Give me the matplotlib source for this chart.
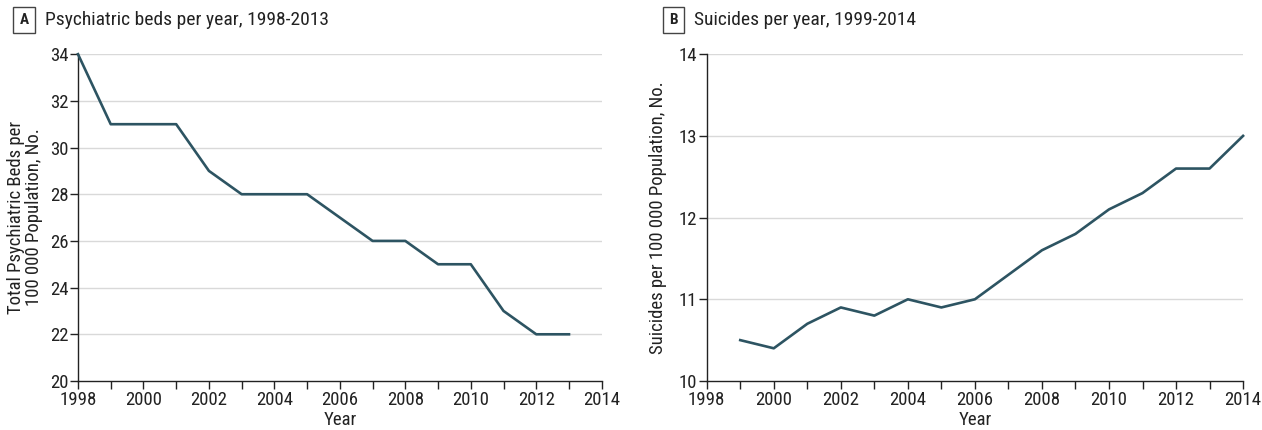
import matplotlib
matplotlib.use('Agg')
from matplotlib import pyplot as plt
from matplotlib.ticker import MultipleLocator

plt.rcParams['font.family'] = ['Roboto Condensed', 'DejaVu Sans']
plt.rcParams['font.size'] = 13

# panel A: psychiatric beds
beds_years = [1998, 1999, 2000, 2001, 2002, 2003, 2004, 2005,
              2006, 2007, 2008, 2009, 2010, 2011, 2012, 2013]
beds = [34, 31, 31, 31, 29, 28, 28, 28, 27, 26, 26, 25, 25, 23, 22, 22]

# panel B: suicides
suicide_years = [1999, 2000, 2001, 2002, 2003, 2004, 2005, 2006,
                 2007, 2008, 2009, 2010, 2011, 2012, 2013, 2014]
suicides = [10.5, 10.4, 10.7, 10.9, 10.8, 11.0, 10.9, 11.0,
            11.3, 11.6, 11.8, 12.1, 12.3, 12.6, 12.6, 13.0]

line_color = '#2d5462'
grid_color = '#d9d9d9'
text_color = '#222222'

fig = plt.figure(figsize=(12.62, 4.30), dpi=100)
ax_a = fig.add_axes([0.0618, 0.114, 0.415, 0.760])
ax_b = fig.add_axes([0.560, 0.114, 0.425, 0.760])


def style_axis(ax, ylim, ystep):
    ax.set_xlim(1998, 2014)
    ax.set_ylim(*ylim)
    ax.xaxis.set_major_locator(MultipleLocator(2))
    ax.xaxis.set_minor_locator(MultipleLocator(1))
    ax.yaxis.set_major_locator(MultipleLocator(ystep))
    for s in ['top', 'right']:
        ax.spines[s].set_visible(False)
    for s in ['left', 'bottom']:
        ax.spines[s].set_linewidth(1.0)
        ax.spines[s].set_color(text_color)
    ax.tick_params(which='both', direction='out', color=text_color,
                   labelsize=13.5, labelcolor=text_color, length=6, width=1)
    ax.tick_params(axis='x', pad=1)
    ax.tick_params(axis='y', pad=1)
    for y in ax.get_yticks():
        if ylim[0] < y <= ylim[1]:
            ax.axhline(y, color=grid_color, lw=1, zorder=0)
    ax.set_xlabel('Year', fontsize=13.5, labelpad=2, color=text_color)


style_axis(ax_a, (20, 34), 2)
ax_a.plot(beds_years, beds, color=line_color, lw=1.9, clip_on=False, zorder=3)
ax_a.set_ylabel('Total Psychiatric Beds per\n100 000 Population, No.',
                fontsize=13.5, labelpad=5, color=text_color, linespacing=1.0)

style_axis(ax_b, (10, 14), 1)
ax_b.plot(suicide_years, suicides, color=line_color, lw=1.9, clip_on=False, zorder=3)
ax_b.set_ylabel('Suicides per 100 000 Population, No.',
                fontsize=13.5, labelpad=8, color=text_color)

box = dict(boxstyle='square,pad=0.4', fc='white', ec='#444444', lw=1)
fig.text(0.0190, 0.953, 'A', fontsize=11, fontweight='bold', ha='center', va='center',
         bbox=box, color=text_color)
fig.text(0.0355, 0.953, 'Psychiatric beds per year, 1998-2013', fontsize=14,
         ha='left', va='center', color=text_color)
fig.text(0.5335, 0.953, 'B', fontsize=11, fontweight='bold', ha='center', va='center',
         bbox=box, color=text_color)
fig.text(0.550, 0.953, 'Suicides per year, 1999-2014', fontsize=14,
         ha='left', va='center', color=text_color)

fig.savefig('out.png', dpi=100)
